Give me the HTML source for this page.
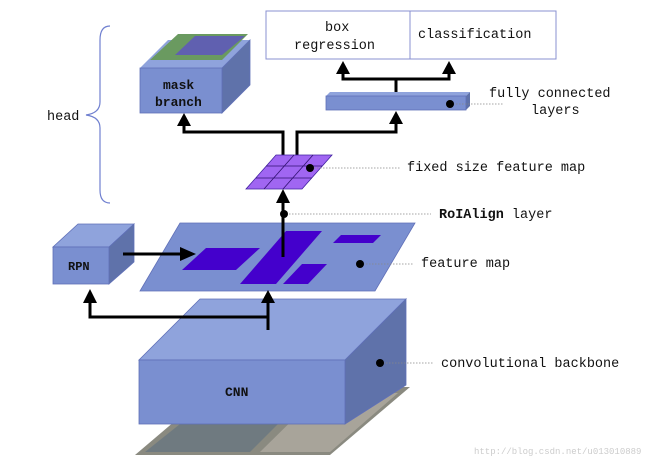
<!DOCTYPE html>
<html><head><style>
html,body{margin:0;padding:0;background:#fff;width:666px;height:465px;overflow:hidden}
svg text{font-family:"Liberation Mono",monospace;font-size:13.5px;fill:#111}
</style></head><body>
<svg width="666" height="465" viewBox="0 0 666 465" xmlns="http://www.w3.org/2000/svg">
<!-- brace -->
<path d="M110,26 Q100,26 100,40 L100,102 Q100,113 86,115 Q100,117 100,128 L100,190 Q100,203 110,203" fill="none" stroke="#7080d0" stroke-width="1.2"/>
<text x="47" y="120">head</text>

<!-- image under CNN -->
<polygon points="135,455 330,455 410,387 215,387" fill="#8a8a80"/>
<polygon points="145,452 250,452 290,412 195,412" fill="#6f7a80"/>
<polygon points="260,452 330,452 398,393 320,393" fill="#a8a49a"/>
<!-- CNN -->
<polygon points="139,360 345,360 406,299 200,299" fill="#8fa3dc" stroke="#6070b8" stroke-width="0.8"/>
<polygon points="345,360 406,299 406,385 345,424" fill="#5f72aa" stroke="#6070b8" stroke-width="0.8"/>
<rect x="139" y="360" width="206" height="64" fill="#7a8fd0" stroke="#6070b8" stroke-width="0.8"/>
<text x="225" y="396" style="font-weight:bold;font-size:13px">CNN</text>

<!-- feature map -->
<polygon points="140,291 375,291 415,223 180,223" fill="#7a8fd0" stroke="#6070b8" stroke-width="0.8"/>
<polygon points="182,270 236,270 260,248 206,248" fill="#4400cc"/>
<polygon points="240,284 276,284 322,231 286,231" fill="#4400cc"/>
<polygon points="283,284 308,284 327,264 302,264" fill="#4400cc"/>
<polygon points="333,243 373,243 381,235 341,235" fill="#4400cc"/>

<!-- RPN -->
<polygon points="53,247 109,247 134,224 78,224" fill="#8fa3dc" stroke="#6070b8" stroke-width="0.8"/>
<polygon points="109,247 134,224 134,262 109,284" fill="#5f72aa" stroke="#6070b8" stroke-width="0.8"/>
<rect x="53" y="247" width="56" height="37" fill="#7a8fd0" stroke="#6070b8" stroke-width="0.8"/>
<text x="68" y="270" style="font-weight:bold;font-size:12px">RPN</text>

<g stroke="#000" stroke-width="3" fill="none">
<path d="M268,330 L268,300"/>
<path d="M268,317 L90,317 L90,300"/>
<path d="M123,254 L182,254"/>
<path d="M283,257 L283,200"/>
<path d="M283,155 L283,132 L184,132 L184,122"/>
<path d="M297,155 L297,132 L396,132 L396,122"/>
<path d="M396,96 L396,79 L343,79 L343,72"/>
<path d="M396,79 L449,79 L449,72"/>
</g>
<g fill="#000">
<polygon points="261,303 275,303 268,290"/>
<polygon points="83,303 97,303 90,289"/>
<polygon points="180,247 180,261 196,254"/>
<polygon points="276,203 290,203 283,189"/>
<polygon points="177,126 191,126 184,113"/>
<polygon points="389,124 403,124 396,111"/>
<polygon points="336,74 350,74 343,61"/>
<polygon points="442,74 456,74 449,61"/>
</g>

<!-- fixed size map -->
<polygon points="246,189 302,189 332,155 276,155" fill="#a066f2" stroke="#4020a0" stroke-width="0.8"/>
<g stroke="#301070" stroke-width="0.8">
<line x1="256" y1="178" x2="312" y2="178"/><line x1="266" y1="166" x2="322" y2="166"/>
<line x1="264" y1="189" x2="294" y2="155"/><line x1="283" y1="189" x2="313" y2="155"/>
</g>

<!-- mask branch -->
<polygon points="140,68 222,68 250,40 168,40" fill="#8fa3dc"/>
<polygon points="150,60 222,60 248,34 178,34" fill="#6a9a60"/>
<polygon points="175,55 222,55 245,36 195,36" fill="#6060b0"/>
<polygon points="222,68 250,40 250,85 222,113" fill="#5f72aa" stroke="#6070b8" stroke-width="0.8"/>
<rect x="140" y="68" width="82" height="45" fill="#7a8fd0" stroke="#6070b8" stroke-width="0.8"/>
<text x="163" y="89" style="font-weight:bold;font-size:13px">mask</text>
<text x="155" y="106" style="font-weight:bold;font-size:13px">branch</text>

<!-- output boxes -->
<rect x="266" y="11" width="144" height="48" fill="#fff" stroke="#8a90d0" stroke-width="1"/>
<rect x="410" y="11" width="146" height="48" fill="#fff" stroke="#8a90d0" stroke-width="1"/>
<text x="325" y="31">box</text>
<text x="294" y="49">regression</text>
<text x="418" y="38">classification</text>

<!-- FC bar -->
<polygon points="326,96 466,96 470,92 330,92" fill="#8fa3dc"/>
<polygon points="466,96 470,92 470,106 466,110" fill="#5f72aa"/>
<rect x="326" y="96" width="140" height="14" fill="#7a8fd0" stroke="#6070b8" stroke-width="0.8"/>

<g stroke="#888" stroke-width="0.8" stroke-dasharray="1.5,1.5">
<line x1="450" y1="104" x2="504" y2="104"/>
<line x1="311" y1="168" x2="400" y2="168"/>
<line x1="283" y1="214" x2="431" y2="214"/>
<line x1="360" y1="264" x2="414" y2="264"/>
<line x1="380" y1="363" x2="434" y2="363"/>
</g>
<g fill="#000">
<circle cx="450" cy="104" r="4"/>
<circle cx="310" cy="168" r="4"/>
<circle cx="284" cy="214" r="4"/>
<circle cx="360" cy="264" r="4"/>
<circle cx="380" cy="363" r="4"/>
</g>
<text x="489" y="97">fully connected</text>
<text x="531" y="114">layers</text>
<text x="407" y="171">fixed size feature map</text>
<text x="439" y="218"><tspan font-weight="bold">RoIAlign</tspan> layer</text>
<text x="421" y="267">feature map</text>
<text x="441" y="367">convolutional backbone</text>
<text x="474" y="454" style="font-size:9px;fill:#ccc">http://blog.csdn.net/u013010889</text>
</svg>
</body></html>
